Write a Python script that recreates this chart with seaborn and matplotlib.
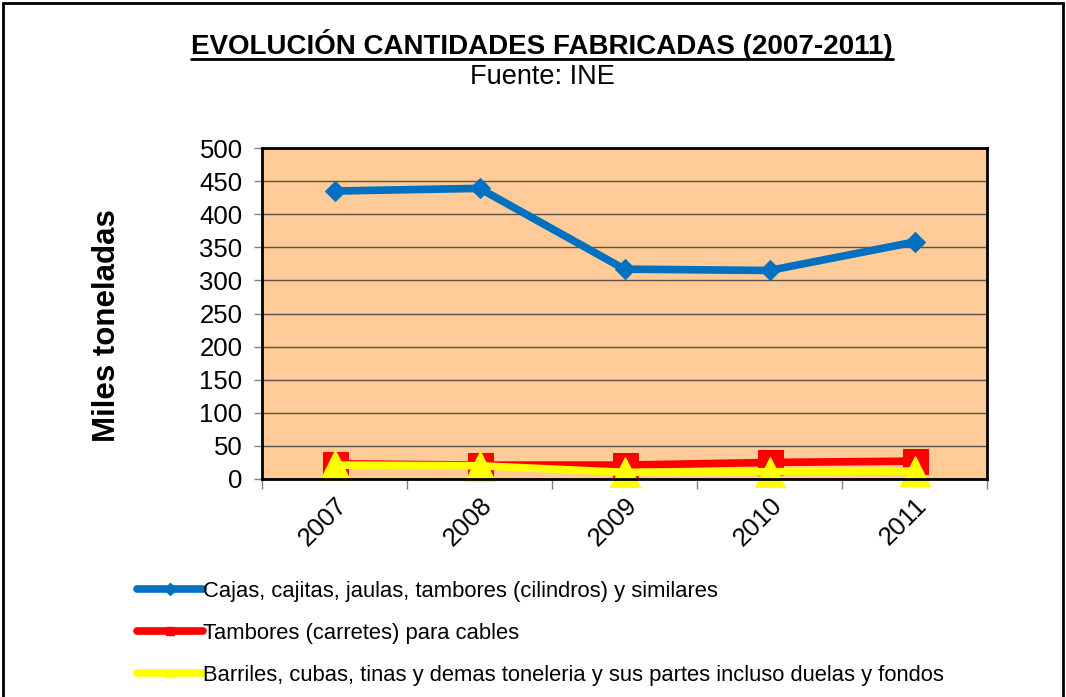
import pandas as pd
import matplotlib.pyplot as plt
import seaborn as sns
from matplotlib.lines import Line2D
from matplotlib.patches import Rectangle

# data
years = ['2007', '2008', '2009', '2010', '2011']
cajas = [435, 439, 317, 315, 358]
tambores = [23, 21, 21, 25, 27]
barriles = [21, 20, 10, 11, 12]

series_names = [
    'Cajas, cajitas, jaulas, tambores (cilindros) y similares',
    'Tambores (carretes) para cables',
    'Barriles, cubas, tinas y demas toneleria y sus partes incluso duelas y fondos',
]

df = pd.DataFrame({
    'year': years * 3,
    'value': cajas + tambores + barriles,
    'serie': [s for s in series_names for _ in years],
})

sns.set_style('white')
plt.rcParams['font.family'] = ['Liberation Sans', 'DejaVu Sans']
plt.rcParams['text.color'] = 'black'
plt.rcParams['xtick.color'] = 'black'
plt.rcParams['ytick.color'] = 'black'
plt.rcParams['axes.labelcolor'] = 'black'

fig = plt.figure(figsize=(10.66, 6.97), dpi=100)
ax = fig.add_axes([262 / 1066, 1 - 479 / 697, 725 / 1066, 331 / 697])

colors = ['#0070C0', '#FF0000', '#FFFF00']
markers = ['D', 's', '^']
msizes = [10, 18, 22]

for name, col, mk, ms in zip(series_names, colors, markers, msizes):
    sub = df[df['serie'] == name]
    sns.lineplot(data=sub, x='year', y='value', color=col, marker=mk,
                 markersize=ms, markeredgecolor=col, linewidth=5.5,
                 ax=ax, label=name, legend=False, clip_on=False)

ax.set_facecolor('#FFCC99')
ax.set_xlim(-0.5, 4.5)
ax.set_ylim(0, 500)
ax.set_yticks(range(0, 501, 50))
ax.yaxis.grid(True, color='#5e5046', linewidth=1)
ax.set_axisbelow(True)
for sp in ax.spines.values():
    sp.set_visible(True)
    sp.set_color('black')
    sp.set_linewidth(2)

ax.tick_params(axis='y', which='major', direction='out', length=6, width=1,
               color='#808080', labelcolor='black', labelsize=18.5, pad=8, left=True)
ax.set_xticks(range(len(years)))
ax.set_xticklabels(years, rotation=45, fontsize=18.5)
ax.set_xticks([i - 0.5 for i in range(len(years) + 1)], minor=True)
ax.tick_params(axis='x', which='major', length=0, pad=10, labelcolor='black')
ax.tick_params(axis='x', which='minor', direction='out', length=7, width=1,
               color='#808080', bottom=True)
for lbl in ax.get_xticklabels():
    lbl.set_ha('right')
    lbl.set_va('top')
    lbl.set_rotation_mode('anchor')

ax.set_xlabel('')
ax.set_ylabel('Miles toneladas', fontsize=22.5, fontweight='bold')
ax.yaxis.set_label_coords((122 - 262) / 725, (479 - 326) / 331)

# titles
t = fig.text(542 / 1066, 1 - 45 / 697, 'EVOLUCIÓN CANTIDADES FABRICADAS (2007-2011)',
             ha='center', va='center', fontsize=20, fontweight='bold')
fig.text(542 / 1066, 1 - 77 / 697, 'Fuente: INE', ha='center', va='center', fontsize=19.5)

# legend below the plot
handles = [Line2D([0], [0], color=c, linewidth=5.5, marker=m, markersize=6,
                  markeredgecolor=c) for c, m in zip(colors, markers)]
fig.legend(handles, series_names, loc='upper left',
           bbox_to_anchor=(137 / 1066, 1 - 581 / 697), frameon=False,
           fontsize=15.8, handlelength=3.0, handletextpad=0.0, labelspacing=0.95,
           borderaxespad=0, borderpad=0)

# outer frame
fig.patches.append(Rectangle((3 / 1066, -0.01), 1 - 6 / 1066, 1 - 3 / 697 + 0.01,
                             transform=fig.transFigure, fill=False,
                             edgecolor='black', linewidth=2))

# underline the title
fig.canvas.draw()
bb = t.get_window_extent().transformed(fig.transFigure.inverted())
fig.add_artist(Line2D([bb.x0, bb.x1], [bb.y0 + 0.002, bb.y0 + 0.002],
                      transform=fig.transFigure, color='black', linewidth=2))

fig.savefig('out.png', dpi=100)
